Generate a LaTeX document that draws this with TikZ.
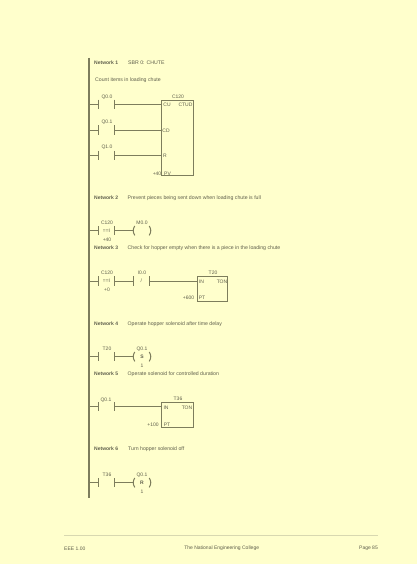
\documentclass[tikz,border=0pt]{standalone}
\usepackage{fontspec}
\setmainfont{Liberation Sans}
\definecolor{pagebg}{HTML}{FFFFCC}
\definecolor{ink}{HTML}{7D7D5C}
\definecolor{txt}{HTML}{5F5F4C}
\definecolor{rule}{HTML}{D8D8B0}
\tikzset{
  x=1pt,y=-1pt,
  wire/.style={draw=ink,line width=0.9pt},
  rail/.style={draw=ink,line width=1.1pt},
  lab/.style={font=\fontsize{5}{5}\selectfont,text=txt,inner sep=0pt},
  net/.style={font=\fontsize{5}{5}\selectfont\bfseries,text=txt,inner sep=0pt,anchor=west},
  desc/.style={font=\fontsize{5.2}{5}\selectfont,text=txt,inner sep=0pt,anchor=west},
  fblock/.style={draw=ink,line width=1pt,inner sep=0pt,rectangle},
  contactn/.style={inner sep=0pt,minimum width=15pt,minimum height=9pt,font=\fontsize{5}{5}\selectfont,text=txt},
  coiln/.style={inner sep=0pt,minimum width=18pt,minimum height=9pt,font=\fontsize{5}{5}\selectfont\bfseries,text=txt},
}
\newcommand{\contactbars}[1]{%
  \draw[wire,line width=1pt] (#1.north west) -- (#1.south west);
  \draw[wire,line width=1pt] (#1.north east) -- (#1.south east);}
\newcommand{\coilbars}[1]{%
  \draw[wire,line width=1pt] ([xshift=2pt]#1.north west) to[bend right=35] ([xshift=2pt]#1.south west);
  \draw[wire,line width=1pt] ([xshift=-2pt]#1.north east) to[bend left=35] ([xshift=-2pt]#1.south east);}
\begin{document}
\begin{tikzpicture}
\useasboundingbox[fill=pagebg] (0,0) rectangle (417,564);
% power rail
\coordinate (railT) at (89,58);
\coordinate (railB) at (89,498);
\draw[rail] (railT) -- (railB);
\coordinate (r1) at (89,104.3);
\coordinate (r2) at (89,130);
\coordinate (r3) at (89,155.7);
\coordinate (r4) at (89,230.7);
\coordinate (r5) at (89,281);
\coordinate (r6) at (89,356.7);
\coordinate (r7) at (89,406.7);
\coordinate (r8) at (89,482.7);
% headings
\node[net]  (n1) at (94,63)    {Network 1};
\node[desc] (d1) at (128,63)   {SBR 0: CHUTE};
\node[desc] (d1b) at (95,80)   {Count items in loading chute};
\node[net]  (n2) at (94,197.7) {Network 2};
\node[desc] (d2) at (127.5,197.7) {Prevent pieces being sent down when loading chute is full};
\node[net]  (n3) at (94,247.7) {Network 3};
\node[desc] (d3) at (127.5,247.7) {Check for hopper empty when there is a piece in the loading chute};
\node[net]  (n4) at (94,323.7) {Network 4};
\node[desc] (d4) at (127.5,323.7) {Operate hopper solenoid after time delay};
\node[net]  (n5) at (94,374)   {Network 5};
\node[desc] (d5) at (127.5,374) {Operate solenoid for controlled duration};
\node[net]  (n6) at (94,449)   {Network 6};
\node[desc] (d6) at (128,449)  {Turn hopper solenoid off};
% network 1
\node[contactn] (c1) at (106.5,104.3) {};
\node[contactn] (c2) at (106.5,130) {};
\node[contactn] (c3) at (106.5,155.7) {};
\node[lab] at (107,97) {Q0.0};
\node[lab] at (107,122) {Q0.1};
\node[lab] at (107,147) {Q1.0};
\node[fblock,minimum width=32.7pt,minimum height=74.3pt] (b1) at (177.4,137.9) {};
\coordinate (b1a) at (b1.west |- c1);
\coordinate (b1b) at (b1.west |- c2);
\coordinate (b1c) at (b1.west |- c3);
\node[lab] at (178,97) {C120};
\node[lab] at (167,105) {CU};
\node[lab] at (185.5,105) {CTUD};
\node[lab] at (166,131) {CD};
\node[lab] at (165,156) {R};
\node[lab] at (167.5,174) {PV};
\node[lab] at (157,174) {+40};
\foreach \a/\b/\c in {c1/r1/b1a,c2/r2/b1b,c3/r3/b1c}{
  \contactbars{\a}
  \draw[wire] (\b) -- (\a.west);
  \draw[wire] (\a.east) -- (\c);
}
% network 2
\node[contactn] (c4) at (106.5,230.7) {==I};
\node[coiln] (q1) at (142,230.7) {};
\contactbars{c4}\coilbars{q1}
\draw[wire] (r4) -- (c4.west);
\draw[wire] (c4.east) -- (q1.west);
\node[lab] at (107,222.7) {C120};
\node[lab] at (107,239.5) {+40};
\node[lab] at (142,223) {M0.0};
% network 3
\node[contactn] (c5) at (106.5,281) {==I};
\node[contactn,minimum width=16pt] (c6) at (141.3,281) {/};
\node[fblock,minimum width=30.4pt,minimum height=24.6pt] (b2) at (212.5,289) {};
\coordinate (b2a) at (b2.west |- c6);
\contactbars{c5}\contactbars{c6}
\draw[wire] (r5) -- (c5.west);
\draw[wire] (c5.east) -- (c6.west);
\draw[wire] (c6.east) -- (b2a);
\node[lab] at (107,273) {C120};
\node[lab] at (107,290) {+0};
\node[lab] at (142,273) {I0.0};
\node[lab] at (213,273) {T20};
\node[lab] at (201.5,282) {IN};
\node[lab] at (222,282) {TON};
\node[lab] at (188.5,298) {+600};
\node[lab] at (202,298) {PT};
% network 4
\node[contactn] (c7) at (106.5,356.7) {};
\node[coiln] (q2) at (142,356.7) {S};
\contactbars{c7}\coilbars{q2}
\draw[wire] (r6) -- (c7.west);
\draw[wire] (c7.east) -- (q2.west);
\node[lab] at (107,349) {T20};
\node[lab] at (142,349) {Q0.1};
\node[lab] at (142,366) {1};
% network 5
\node[contactn] (c8) at (106.5,406.7) {};
\node[fblock,minimum width=32.7pt,minimum height=25pt] (b3) at (177.4,415.2) {};
\coordinate (b3a) at (b3.west |- c8);
\contactbars{c8}
\draw[wire] (r7) -- (c8.west);
\draw[wire] (c8.east) -- (b3a);
\node[lab] at (106,400) {Q0.1};
\node[lab] at (178,399) {T36};
\node[lab] at (166,408) {IN};
\node[lab] at (187,408) {TON};
\node[lab] at (153,424.5) {+100};
\node[lab] at (167,424.5) {PT};
% network 6
\node[contactn] (c9) at (106.5,482.7) {};
\node[coiln] (q3) at (142,482.7) {R};
\contactbars{c9}\coilbars{q3}
\draw[wire] (r8) -- (c9.west);
\draw[wire] (c9.east) -- (q3.west);
\node[lab] at (107,475) {T36};
\node[lab] at (142,475) {Q0.1};
\node[lab] at (142,492) {1};
% footer
\coordinate (fl) at (64,535.7);
\coordinate (fr) at (378,535.7);
\draw[draw=rule,line width=.8pt] (fl) -- (fr);
\node[lab,anchor=west] at (64,548.7) {EEE 1.00};
\node[lab] at (221.7,548.7) {The National Engineering College};
\node[lab,anchor=east] at (378,548.7) {Page 85};
\end{tikzpicture}
\end{document}
